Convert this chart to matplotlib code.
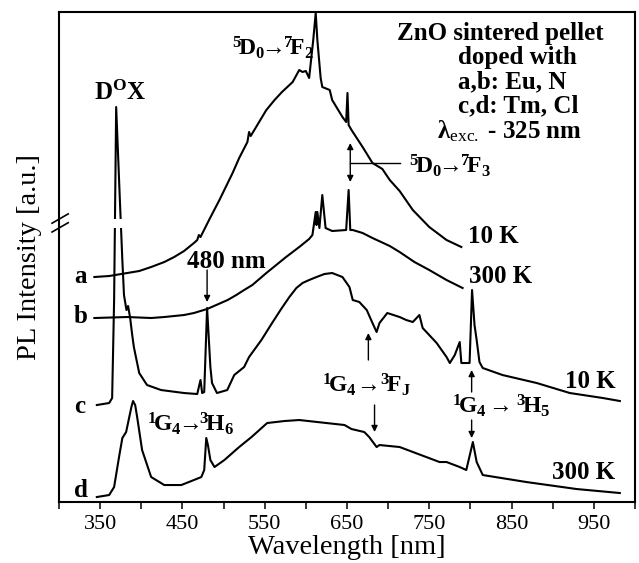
import numpy as np
import matplotlib
matplotlib.use('Agg')
import matplotlib.pyplot as plt
from matplotlib.patches import Rectangle

plt.rcParams['font.family'] = 'Liberation Serif'
plt.rcParams['mathtext.fontset'] = 'custom'
plt.rcParams['mathtext.rm'] = 'Liberation Serif'
plt.rcParams['mathtext.bf'] = 'Liberation Serif:bold'
plt.rcParams['mathtext.it'] = 'Liberation Serif:italic'

### a: Eu, N doped pellet, 10 K
wl_a = [343, 361, 383, 397.5, 412, 428, 440, 452, 464, 468, 470, 472, 483, 495, 511,
        519, 529, 531, 533, 552, 562, 571, 584, 590, 592, 596, 600, 604, 609, 612,
        614, 618, 620, 629, 632, 644.5, 649, 650.6, 652, 655.5, 669, 681, 693, 702,
        714, 730, 750, 771, 789]
pl_a = [22.5, 22.6, 22.9, 23.1, 23.5, 24.0, 24.5, 25.1, 25.9, 26.2, 26.7, 26.5, 28.3,
        30.2, 32.9, 34.4, 36.0, 37.0, 36.6, 39.2, 40.2, 41.0, 42.0, 42.9, 43.2, 43.0,
        43.1, 42.4, 46.2, 48.9, 46.2, 42.4, 41.5, 41.2, 40.2, 38.5, 38.0, 40.9, 37.7,
        37.2, 35.5, 33.9, 33.3, 32.2, 31.1, 29.2, 27.5, 26.2, 25.5]

### b: Eu, N doped pellet, 300 K
wl_b = [343, 383, 412, 428, 452, 464, 480, 505, 515.5, 525, 535, 552, 564, 576, 592,
        604, 608, 612, 613, 614, 616.5, 620, 624, 632, 649, 652, 654, 657, 669, 681,
        702, 714, 732, 750, 771, 790.5]
pl_b = [18.4, 18.5, 18.4, 18.5, 18.7, 18.9, 19.3, 20.2, 20.7, 21.2, 21.7, 22.9, 23.7,
        24.5, 25.5, 26.3, 26.7, 29.0, 27.7, 29.0, 27.4, 30.7, 27.4, 27.1, 27.2, 31.2,
        27.2, 27.2, 26.9, 26.4, 25.6, 25.0, 24.0, 23.2, 22.2, 21.4]

### c: Tm, Cl doped pellet, 10 K
wl_c = [346, 361, 364.6, 367, 369.5, 374, 377, 379, 382, 384, 386.5, 389, 391, 397.5,
        407, 424, 452, 468, 472, 474, 476.5, 480, 484, 486, 492, 504.5, 513, 525, 531,
        546, 559, 570, 580, 588.5, 596, 604, 613, 622.6, 632, 644.5, 653, 657, 665,
        674, 681, 686, 689.5, 699, 714, 722, 730, 738, 742, 759, 765, 771, 775, 781,
        787, 789, 799, 802, 805, 807.6, 811, 815, 839, 880.6, 920.8, 961, 981.6]
pl_c = [9.7, 9.9, 10.4, 20.2, 39.5, 30.2, 24.2, 20.7, 19.2, 19.6, 18.4, 16.7, 15.5,
        12.9, 11.7, 11.2, 10.9, 10.8, 12.2, 10.9, 11.0, 19.4, 13.5, 11.9, 10.9, 11.2,
        12.7, 13.5, 14.5, 16.2, 17.9, 19.3, 20.5, 21.4, 21.9, 22.2, 22.5, 22.8, 22.9,
        22.5, 21.5, 20.2, 20.0, 19.2, 17.9, 17.0, 17.9, 18.9, 18.5, 18.2, 18.0, 18.7,
        17.4, 15.9, 15.2, 14.5, 13.9, 14.7, 16.0, 13.9, 13.9, 21.2, 17.7, 16.2, 14.0,
        13.4, 12.7, 11.9, 10.9, 10.4, 10.1]

### d: Tm, Cl doped pellet, 300 K
wl_d = [346, 361, 367, 373, 377, 381.6, 388, 390, 392.6, 395, 401, 412, 428, 448.6,
        464, 473, 476.5, 479, 481, 484, 489, 501, 519, 534, 543.5, 553, 574, 592, 614,
        647, 655.5, 671, 677, 686, 689.5, 714, 762.5, 771, 787, 795, 803, 807.6, 815,
        868, 929, 981.6]
pl_d = [0.5, 0.7, 1.5, 4.5, 6.4, 7.0, 9.5, 10.1, 9.7, 8.5, 5.2, 2.5, 1.7, 1.7, 2.2,
        2.5, 3.2, 6.4, 5.7, 4.2, 3.5, 4.2, 5.5, 6.5, 7.2, 7.9, 8.1, 8.2, 8.0, 7.7, 7.3,
        7.0, 6.5, 5.5, 5.7, 5.5, 4.0, 4.0, 3.5, 3.2, 6.0, 4.0, 2.7, 2.0, 1.3, 0.9]

curve_names = ['a', 'b', 'c', 'd']
x_ticks = [350, 450, 550, 650, 750, 850, 950]

fig = plt.figure(figsize=(6.39, 5.63), dpi=100)
ax = fig.add_axes([0.0923, 0.1083, 0.9014, 0.8704])

for wl, pl in [(wl_a, pl_a), (wl_b, pl_b), (wl_c, pl_c), (wl_d, pl_d)]:
    ax.plot(wl, pl, color='black', lw=1.5, zorder=2)

# axis break through the D0X line
ax.add_patch(Rectangle((363, 27.45), 17, 0.9, facecolor='white', edgecolor='none', zorder=3))
for y0 in [0.551, 0.569]:
    ax.plot([-0.012, 0.016], [y0, y0 + 0.019], transform=ax.transAxes,
            color='black', lw=1.2, clip_on=False)

ax.set_xlim(300, 1000)
ax.set_ylim(0, 49)
ax.set_xticks(x_ticks)
ax.set_xticks(np.arange(300, 1001, 100), minor=True)
ax.set_yticks([])
ax.tick_params(axis='x', which='both', direction='out', length=5, width=1.1, labelsize=16, pad=4)
for s in ax.spines.values():
    s.set_linewidth(1.5)

ax.set_xlabel('Wavelength [nm]', fontsize=20.5, labelpad=1)
ax.set_ylabel('PL Intensity [a.u.]', fontsize=20.5, labelpad=12)

bold = dict(fontsize=18, fontweight='bold', ha='left', va='baseline')
trans = dict(bold, fontsize=17)

# curve letters
for name, y in zip(curve_names, [21.9, 17.9, 8.9, 0.5]):
    ax.text(318.4, y, name, **bold)

ax.text(796.6, 25.9, '10 K', **bold)
ax.text(797.9, 21.9, '300 K', **bold)
ax.text(914.7, 11.4, '10 K', **bold)
ax.text(898.9, 2.3, '300 K', **bold)

# sample description
ax.text(711.4, 46.2, 'ZnO sintered pellet', **bold)
ax.text(784.5, 43.8, 'doped with', **bold)
ax.text(784.5, 41.4, 'a,b: Eu, N', **bold)
ax.text(784.5, 39.0, 'c,d: Tm, Cl', **bold)
ax.text(760, 36.4, r'$\mathbf{\lambda}_{\mathrm{exc.}}$ - 325 nm', **bold)

# transitions
ax.text(343, 40.2, r'$\mathbf{D^{O}X}$', **bold)
ax.text(510.6, 44.7, r'$\mathbf{{}^{5}\!D_{0}\!\!\rightarrow\!\!{}^{7}\!F_{2}}$', **trans)
ax.text(724.8, 32.9, r'$\mathbf{{}^{5}\!D_{0}\!\!\rightarrow\!\!{}^{7}\!F_{3}}$', **trans)
ax.text(407, 7.1, r'$\mathbf{{}^{1}\!G_{4}\!\!\rightarrow\!\!{}^{3}\!H_{6}}$', **trans)
ax.text(620, 11.0, r'$\mathbf{{}^{1}\!G_{4}\!\rightarrow\!{}^{3}\!F_{J}}$', **trans)
ax.text(778, 8.9, r'$\mathbf{{}^{1}\!G_{4}\rightarrow{}^{3}\!H_{5}}$', **trans)
ax.text(456, 23.4, '480 nm', **bold)

arrow = dict(arrowstyle='-|>', color='black', lw=1.0, mutation_scale=9, shrinkA=0, shrinkB=0)
ax.annotate('', xy=(480, 20.0), xytext=(480, 23.2), arrowprops=arrow)
ax.annotate('', xy=(676, 16.9), xytext=(676, 14.2), arrowprops=arrow)
ax.annotate('', xy=(683.5, 7.0), xytext=(683.5, 9.7), arrowprops=arrow)
ax.annotate('', xy=(801.5, 13.2), xytext=(801.5, 11.0), arrowprops=arrow)
ax.annotate('', xy=(801.5, 6.4), xytext=(801.5, 8.2), arrowprops=arrow)
ax.annotate('', xy=(654, 35.9), xytext=(654, 32.0),
            arrowprops=dict(arrow, arrowstyle='<|-|>'))
ax.plot([654, 714], [33.9, 33.9], color='black', lw=1.0)

plt.savefig('out.png', dpi=100)
